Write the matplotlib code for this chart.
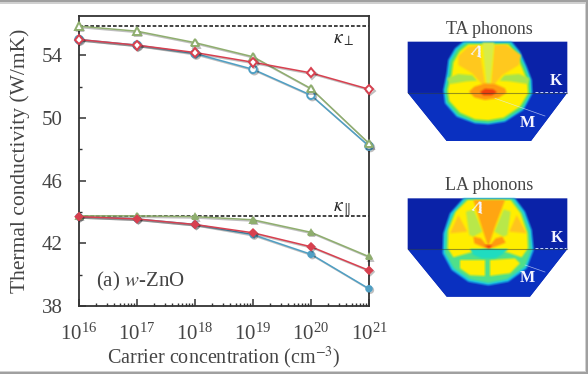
import numpy as np
import matplotlib
matplotlib.use('Agg')
import matplotlib.pyplot as plt
from matplotlib.colors import to_rgb
from matplotlib.patches import Polygon, Rectangle
from matplotlib.ticker import LogLocator, NullFormatter, FixedLocator
import matplotlib.patheffects as pe

plt.rcParams['font.family'] = ['Liberation Serif', 'DejaVu Serif']
plt.rcParams['mathtext.fontset'] = 'stix'

carrier = [1e16, 1e17, 1e18, 1e19, 1e20, 1e21]

# in-plane branch
perp_green = [55.85, 55.53, 54.8, 53.9, 51.87, 48.37]
perp_blue = [55.0, 54.64, 54.1, 53.1, 51.45, 48.2]
perp_red = [55.0, 54.64, 54.17, 53.55, 52.87, 51.83]
perp_limit = 55.85

# cross-plane branch
para_green = [43.75, 43.75, 43.7, 43.5, 42.7, 41.15]
para_blue = [43.7, 43.55, 43.2, 42.55, 41.3, 39.1]
para_red = [43.7, 43.55, 43.2, 42.67, 41.78, 40.27]
para_limit = 43.75

y_major = [38, 42, 46, 50, 54]
y_minor = [40, 44, 48, 52]

GREEN = '#8fae6e'
BLUE = '#4f9fc4'
RED = '#d8404f'
INK = '#444444'

# inset outlines, crop pixels (crop origin given below)
TA_origin = (395, 10)
LA_origin = (395, 170)
TA_plate = [(38,95),(517,95),(517,248),(408,393),(155,393),(38,248)]
LA_plate = [(38,85),(517,85),(517,237),(405,380),(155,380),(38,237)]

TA_layers = [
    ('#19c8e8', [(205,95),(180,115),(160,150),(155,190),(145,240),(150,280),(185,320),(240,340),(280,343),(330,335),(385,300),(412,250),(410,210),(395,170),(375,125),(350,95)]),
    ('#50e070', [(212,100),(187,119),(167,153),(162,192),(151,240),(156,277),(189,315),(240,335),(280,338),(328,330),(381,296),(406,250),(404,211),(389,172),(369,127),(345,100)]),
    ('#ffee00', [(220,103),(194,124),(175,157),(170,195),(158,240),(163,273),(195,308),(240,328),(280,331),(326,323),(375,290),(399,250),(397,213),(382,175),(362,130),(340,103)]),
    ('#a8e44c', [(156,205),(190,192),(232,196),(246,212),(215,214),(165,222)]),
    ('#a8e44c', [(404,205),(372,192),(328,196),(314,212),(345,214),(398,222)]),
    ('#ffc81e', [(190,138),(220,110),(252,106),(272,235),(232,190),(190,165)]),
    ('#ffc81e', [(288,235),(298,106),(332,104),(378,135),(372,165),(322,195)]),
    ('#d8ec48', [(262,98),(298,98),(284,240),(276,240)]),
    ('#ff9a10', [(222,245),(238,230),(270,220),(300,222),(330,235),(335,248),(310,264),(270,270),(238,262)]),
    ('#f0400c', [(255,246),(270,236),(295,238),(306,247),(290,256),(265,256)]),
]
LA_layers = [
    ('#19c8e8', [(205,85),(165,130),(145,190),(143,250),(170,300),(220,335),(280,346),(340,335),(395,295),(416,240),(410,180),(390,125),(360,85)]),
    ('#4fe08a', [(211,87),(172,133),(152,190),(150,248),(176,295),(224,328),(280,339),(336,328),(390,290),(409,240),(403,180),(383,128),(354,87)]),
    ('#ffee00', [(218,90),(347,90),(377,130),(397,190),(399,235),(380,262),(340,248),(280,235),(225,248),(175,262),(158,235),(160,180),(182,125)]),
    ('#b8e84a', [(213,125),(236,118),(262,185),(235,200),(223,195)]),
    ('#b8e84a', [(347,125),(326,118),(298,185),(325,200),(337,195)]),
    ('#ffc41e', [(165,190),(190,135),(217,185)]),
    ('#ffc41e', [(395,190),(365,135),(343,185)]),
    ('#ffa512', [(235,90),(330,90),(300,170),(280,232),(260,170)]),
    ('#ff9a10', [(235,200),(258,205),(280,232),(302,205),(322,200),(332,218),(280,238),(238,220)]),
    ('#ffee00', [(195,270),(270,270),(270,318),(225,316),(195,295)]),
    ('#ffee00', [(285,270),(360,265),(375,280),(345,310),(285,318)]),
    ('#1fdcc0', [(225,237),(340,237),(320,255),(300,265),(260,265),(235,255)]),
    ('#f0400c', [(268,225),(292,225),(282,236)]),
]


def blur(radius, color):
    # soften only the alpha so the edges keep the layer colour
    rgb = to_rgb(color)

    def f(img, dpi):
        pad = radius * 3
        a = np.pad(img[:, :, 3], pad)
        k = np.ones(2 * radius + 1) / (2 * radius + 1)
        a = np.apply_along_axis(lambda m: np.convolve(m, k, mode='same'), 0, a)
        a = np.apply_along_axis(lambda m: np.convolve(m, k, mode='same'), 1, a)
        out = np.zeros(a.shape + (4,))
        out[:, :, :3] = rgb
        out[:, :, 3] = a
        return out, -pad, -pad
    return f


fig = plt.figure(figsize=(5.88, 3.74), dpi=100)
ax = fig.add_axes([79/588, 1 - 306/374, 290/588, 290/374])


def series(x, y, color, marker, ms, face='white'):
    line, = ax.plot(x, y, '-', color=color, lw=1.1, marker=marker, ms=ms,
                    mfc=face, mec=color, mew=1.4, clip_on=False, zorder=3)
    line.set_path_effects([pe.SimpleLineShadow(offset=(1, -1), alpha=0.25, shadow_color='k'), pe.Normal()])


series(carrier, perp_blue, BLUE, 'o', 5.5)
series(carrier, perp_green, GREEN, '^', 5.5)
series(carrier, perp_red, RED, 'D', 4.5)
series(carrier, para_blue, BLUE, 'o', 4, BLUE)
series(carrier, para_green, GREEN, '^', 4, GREEN)
series(carrier, para_red, RED, 'D', 3.5, RED)
ax.axhline(perp_limit, color='#222222', lw=1.2, ls=(0, (2.2, 1.2)), zorder=2)
ax.axhline(para_limit, color='#222222', lw=1.2, ls=(0, (2.2, 1.2)), zorder=2)

ax.set_xscale('log')
ax.set_xlim(1e16, 1e21)
ax.set_ylim(38, 56.5)
ax.yaxis.set_major_locator(FixedLocator(y_major))
ax.yaxis.set_minor_locator(FixedLocator(y_minor))
ax.xaxis.set_major_locator(LogLocator(base=10, numticks=10))
ax.xaxis.set_minor_locator(LogLocator(base=10, subs=np.arange(2, 10), numticks=10))
ax.xaxis.set_minor_formatter(NullFormatter())
ax.tick_params(axis='both', which='major', direction='in', length=5, width=1.1,
               color='#333333', labelcolor=INK, labelsize=15)
ax.tick_params(axis='y', which='major', pad=12)
ax.tick_params(axis='x', which='major', pad=13)
ax.tick_params(axis='both', which='minor', direction='in', length=2.5, width=1.0, color='#333333')
for s in ax.spines.values():
    s.set_color('#333333')
    s.set_linewidth(1.3)
ax.set_xlabel('Carrier concentration (cm$^{-3}$)', fontsize=14.5, color=INK, labelpad=0)
ax.set_ylabel('Thermal conductivity (W/mK)', fontsize=15.5, color=INK, labelpad=8)
ax.text(0.058, 0.068, '(a) $\\mathit{w}$-ZnO', transform=ax.transAxes, fontsize=15, color=INK)
ax.text(0.875, 0.905, '$\\kappa_{\\perp}$', transform=ax.transAxes, fontsize=14, color='#222222')
ax.text(0.875, 0.328, '$\\kappa_{\\parallel}$', transform=ax.transAxes, fontsize=14, color='#222222')

# overlay in image pixels for the two insets and the page edge
ov = fig.add_axes([0, 0, 1, 1], facecolor='none')
ov.set_xlim(0, 588)
ov.set_ylim(374, 0)
ov.axis('off')


def to_px(pts, origin):
    return [(origin[0] + p[0] / 3, origin[1] + p[1] / 3) for p in pts]


def inset(origin, plate, layers, title, title_y, a_pos, a_rot, k_pos, m_pos, dash_y, m_line):
    ov.add_patch(Polygon(to_px(plate, origin), closed=True, fc='#0a22a8', ec='none', zorder=1))
    ov.add_patch(Polygon(to_px([plate[5], plate[2], plate[3], plate[4]], origin), closed=True,
                         fc='#0a30c0', ec='none', zorder=1))
    for i, (col, pts) in enumerate(layers):
        p = Polygon(to_px(pts, origin), closed=True, fc=col, ec='none', zorder=2 + i * 0.01)
        p.set_agg_filter(blur(1, col))
        ov.add_patch(p)
    x0, y0 = to_px([plate[5]], origin)[0]
    x1, _ = to_px([plate[2]], origin)[0]
    ov.plot([x0, x1], [y0, y0], color='#303a30', lw=0.8, alpha=0.5, zorder=3)
    d = to_px([(420, dash_y), (512, dash_y)], origin)
    ov.plot([d[0][0], d[1][0]], [d[0][1], d[1][1]], color='#c8d8ff', lw=0.7, ls=(0, (3, 2)), zorder=3)
    ml = to_px(m_line, origin)
    ov.plot([ml[0][0], ml[1][0]], [ml[0][1], ml[1][1]], color='#dfe8ff', lw=0.5, alpha=0.7, zorder=3)
    tx = to_px([(283, title_y)], origin)[0]
    ov.text(tx[0], tx[1], title, ha='center', va='center', fontsize=13, color=INK)
    for s, pos, rot in (('Λ', a_pos, a_rot), ('K', k_pos, 0), ('M', m_pos, 0)):
        q = to_px([pos], origin)[0]
        ov.text(q[0], q[1], s, ha='center', va='center', fontsize=11.5, color='#f4f4ff',
                fontweight='bold', rotation=rot, zorder=4)


inset(TA_origin, TA_plate, TA_layers, 'TA phonons', 58, (246, 128), -20, (483, 213), (396, 340), 245, [(300, 265), (450, 318)])
inset(LA_origin, LA_plate, LA_layers, 'LA phonons', 45, (248, 115), -20, (485, 203), (397, 325), 233, [(390, 285), (450, 306)])

# page edge of the screenshot
for w, col in ((3.5, '#d0d0d0'), (2, '#a0a0a0')):
    ov.add_patch(Rectangle((0, 0), 588, w, fc=col, ec='none', zorder=5))
    ov.add_patch(Rectangle((0, 374 - w), 588, w, fc=col, ec='none', zorder=5))
    ov.add_patch(Rectangle((588 - w, 0), w, 374, fc=col, ec='none', zorder=5))

fig.savefig('out.png', dpi=100)
